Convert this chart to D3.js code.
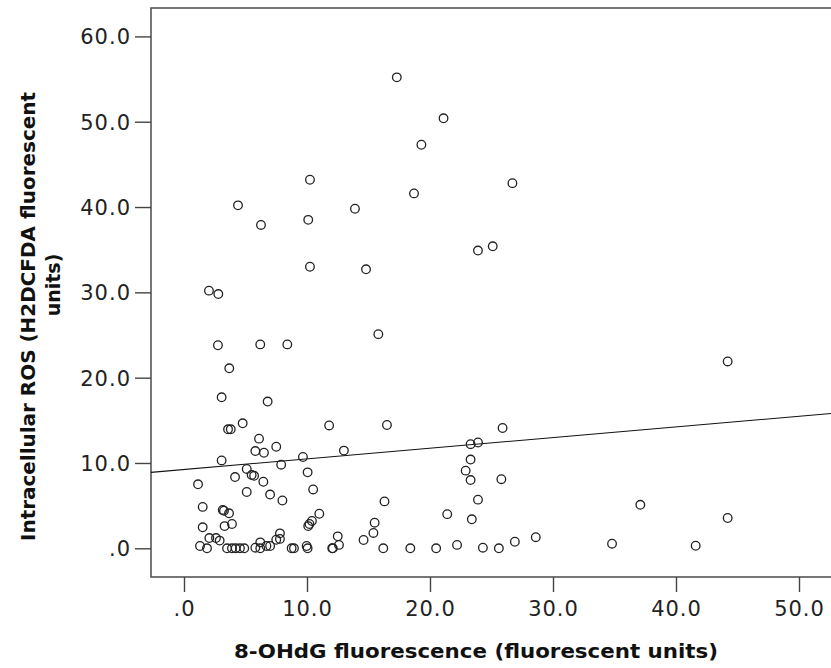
<!DOCTYPE html>
<html>
<head>
<meta charset="utf-8">
<script src="https://cdn.jsdelivr.net/npm/d3@7"></script>
<style>
  html, body { margin: 0; padding: 0; background: #fff; }
  svg { display: block; }
</style>
</head>
<body>
<svg id="chart" width="831" height="668"></svg>
<script>
// 8-OHdG fluorescence (x) vs Intracellular ROS (y)
const ohdg = [
  17.3, 21.1, 19.3, 10.24, 4.39, 6.26, 10.1, 13.9, 18.7, 10.24,
  14.8, 23.9, 25.1, 2.03, 2.79, 26.7, 15.8, 2.76, 6.2, 8.4,
  3.68, 3.06, 6.8, 4.77, 3.58, 3.8, 11.8, 16.5, 6.1, 5.8,
  6.5, 7.5, 13.0, 9.67, 3.06, 7.9, 23.3, 23.9, 23.3, 22.9,
  23.3, 23.9, 23.4, 21.4, 5.1, 5.5, 5.7, 4.15, 1.14, 10.05,
  6.45, 10.5, 5.1, 7.0, 8.0, 16.3, 1.52, 3.15, 3.25, 3.66,
  11.0, 3.3, 3.9, 1.52, 10.1, 10.4, 10.2, 15.5, 15.4, 14.6,
  12.5, 12.6, 12.05, 12.1, 7.8, 7.8, 7.5, 2.06, 2.6, 2.9,
  1.3, 1.87, 3.5, 3.9, 4.2, 4.55, 4.9, 5.8, 6.2, 6.2,
  6.7, 7.0, 8.75, 8.94, 9.97, 10.05, 16.2, 18.4, 20.5, 22.2,
  24.3, 44.2, 25.9, 25.8, 37.1, 44.2, 28.6, 26.9, 25.6, 34.8,
  41.6
];
const ros = [
  55.2, 50.4, 47.3, 43.2, 40.2, 37.9, 38.5, 39.8, 41.6, 33.0,
  32.7, 34.9, 35.4, 30.2, 29.8, 42.8, 25.1, 23.8, 23.9, 23.9,
  21.1, 17.7, 17.2, 14.65, 13.95, 13.95, 14.4, 14.45, 12.85, 11.4,
  11.2, 11.9, 11.45, 10.7, 10.3, 9.8, 12.2, 12.4, 10.4, 9.1,
  8.0, 5.7, 3.4, 4.0, 9.3, 8.6, 8.5, 8.35, 7.5, 8.9,
  7.8, 6.9, 6.6, 6.3, 5.6, 5.5, 4.85, 4.5, 4.4, 4.1,
  4.05, 2.6, 2.85, 2.46, 2.6, 3.2, 2.85, 3.0, 1.8, 0.97,
  1.4, 0.4, 0.0, 0.0, 1.75, 1.1, 1.0, 1.2, 1.2, 0.9,
  0.27, 0.0, 0.0, 0.0, 0.0, 0.0, 0.0, 0.07, 0.7, 0.0,
  0.27, 0.27, 0.0, 0.0, 0.27, 0.0, 0.0, 0.0, 0.0, 0.4,
  0.07, 21.9, 14.1, 8.1, 5.1, 3.55, 1.3, 0.77, 0.0, 0.54,
  0.3
];
const xTicks = [0, 10, 20, 30, 40, 50];
const yTicks = [0, 10, 20, 30, 40, 50, 60];
const fitIntercept = 9.23;
const fitSlope = 0.125;
const xTitle = "8-OHdG fluorescence (fluorescent units)";
const yTitleLines = ["Intracellular ROS (H2DCFDA fluorescent", "units)"];

(function () {
const fmt = v => v === 0 ? ".0" : v.toFixed(1);

const svg = d3.select("#chart");
const pL = 151, pR = 845, pT = 8, pB = 577;
// pixel anchors measured from reference: x 0->184, 50->799 ; y 0->548.3, 60->36.4
const x = d3.scaleLinear()
  .domain([(pL - 184) / 12.3, (pR - 184) / 12.3])
  .range([pL, pR]);
const yUnit = (548.3 - 36.4) / 60;
const y = d3.scaleLinear()
  .domain([-(pB - 548.3) / yUnit, (548.3 - pT) / yUnit])
  .range([pB, pT]);

// frame
svg.append("rect")
  .attr("x", pL).attr("y", pT)
  .attr("width", pR - pL).attr("height", pB - pT)
  .attr("fill", "none").attr("stroke", "#555").attr("stroke-width", 1.6);

// axes
const xAxis = d3.axisBottom(x).tickValues(xTicks).tickFormat(fmt).tickSize(15).tickPadding(9);
const yAxis = d3.axisLeft(y).tickValues(yTicks).tickFormat(fmt).tickSize(16).tickPadding(4);

const gx = svg.append("g").attr("transform", `translate(0,${pB})`).call(xAxis);
const gy = svg.append("g").attr("transform", `translate(${pL},0)`).call(yAxis);
[gx, gy].forEach(g => {
  g.select(".domain").remove();
  g.selectAll(".tick line").attr("stroke", "#444").attr("stroke-width", 1.4);
  g.selectAll(".tick text")
    .attr("fill", "#222")
    .style("font-family", "'DejaVu Sans', sans-serif")
    .style("font-size", "21px")
    .style("letter-spacing", "1px");
});
gy.selectAll(".tick text").attr("dy", "0.36em");

// regression line
const xr = x.domain();
svg.append("line")
  .attr("x1", x(xr[0])).attr("y1", y(fitIntercept + fitSlope * xr[0]))
  .attr("x2", x(xr[1])).attr("y2", y(fitIntercept + fitSlope * xr[1]))
  .attr("stroke", "#111").attr("stroke-width", 1.1);

// points
svg.append("g").selectAll("circle")
  .data(ohdg.map((v, i) => [v, ros[i]]))
  .join("circle")
  .attr("cx", d => x(d[0]))
  .attr("cy", d => y(d[1]))
  .attr("r", 4.3)
  .attr("fill", "none")
  .attr("stroke", "#222")
  .attr("stroke-width", 1.3);

// titles
svg.append("text")
  .attr("x", 234).attr("y", 658)
  .attr("textLength", 484).attr("lengthAdjust", "spacingAndGlyphs")
  .style("font-family", "'DejaVu Sans', sans-serif")
  .style("font-weight", "bold").style("font-size", "19px")
  .attr("fill", "#111")
  .text(xTitle);

svg.append("text")
  .attr("transform", "translate(35,541) rotate(-90)")
  .attr("textLength", 449).attr("lengthAdjust", "spacingAndGlyphs")
  .style("font-family", "'DejaVu Sans', sans-serif")
  .style("font-weight", "bold").style("font-size", "19px")
  .attr("fill", "#111")
  .text(yTitleLines[0]);

svg.append("text")
  .attr("transform", "translate(60,285) rotate(-90)")
  .attr("text-anchor", "middle")
  .style("font-family", "'DejaVu Sans', sans-serif")
  .style("font-weight", "bold").style("font-size", "19px")
  .attr("fill", "#111")
  .text(yTitleLines[1]);
})();
</script>
</body>
</html>
